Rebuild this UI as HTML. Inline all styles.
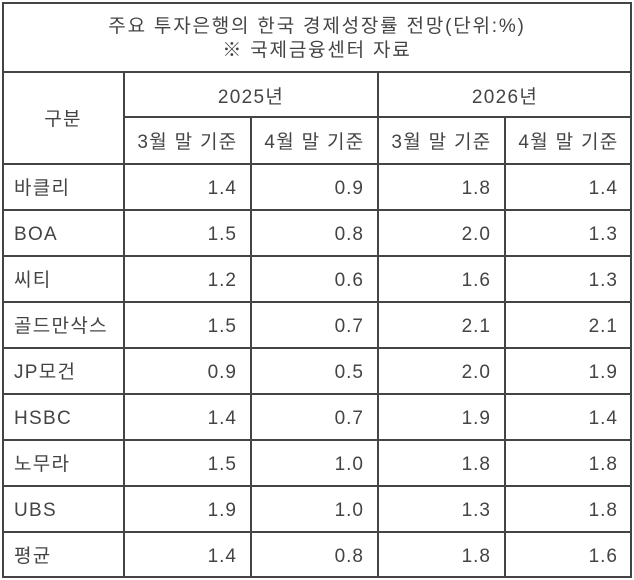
<!DOCTYPE html><html><head><meta charset="utf-8"><style>
body{margin:0;width:634px;height:580px;background:#fff;position:relative;font-family:"Liberation Sans","Noto Sans CJK KR",sans-serif;color:#444;font-size:19px;letter-spacing:1.3px}
.h{position:absolute;height:2px;background:#444}
.v{position:absolute;width:2px;background:#444}
.t{position:absolute;line-height:20px;white-space:nowrap}
.n{letter-spacing:1px}
</style></head><body>
<div class="h" style="left:2px;top:2px;width:630px"></div>
<div class="h" style="left:2px;top:576px;width:630px"></div>
<div class="v" style="left:2px;top:2px;height:576px"></div>
<div class="v" style="left:630px;top:2px;height:576px"></div>
<div class="h" style="left:2px;top:71px;width:630px"></div>
<div class="h" style="left:124px;top:116px;width:508px"></div>
<div class="h" style="left:2px;top:163px;width:630px"></div>
<div class="v" style="left:123px;top:71px;height:507px"></div>
<div class="v" style="left:250px;top:116px;height:462px"></div>
<div class="v" style="left:377px;top:71px;height:507px"></div>
<div class="v" style="left:504px;top:116px;height:462px"></div>
<div class="t" style="left:0;width:634px;text-align:center;top:17px;letter-spacing:1.8px">주요 투자은행의 한국 경제성장률 전망(단위:%)</div>
<div class="t" style="left:0;width:634px;text-align:center;top:41px;letter-spacing:1.8px">※ 국제금융센터 자료</div>
<div class="t" style="left:2px;width:122px;text-align:center;top:110px">구분</div>
<div class="t" style="left:124px;width:254px;text-align:center;top:88px">2025년</div>
<div class="t" style="left:378px;width:254px;text-align:center;top:88px">2026년</div>
<div class="t" style="left:124px;width:127px;text-align:center;top:133px">3월 말 기준</div>
<div class="t" style="left:251px;width:127px;text-align:center;top:133px">4월 말 기준</div>
<div class="t" style="left:378px;width:127px;text-align:center;top:133px">3월 말 기준</div>
<div class="t" style="left:505px;width:127px;text-align:center;top:133px">4월 말 기준</div>
<div id="rows"></div>
<script>
var d=[["바클리","1.4","0.9","1.8","1.4"],["BOA","1.5","0.8","2.0","1.3"],["씨티","1.2","0.6","1.6","1.3"],["골드만삭스","1.5","0.7","2.1","2.1"],["JP모건","0.9","0.5","2.0","1.9"],["HSBC","1.4","0.7","1.9","1.4"],["노무라","1.5","1.0","1.8","1.8"],["UBS","1.9","1.0","1.3","1.8"],["평균","1.4","0.8","1.8","1.6"]];
var h="",R=[124,251,378,505,632];
d.forEach(function(r,i){var y=163+i*46;
if(i>0)h+='<div class="h" style="left:2px;top:'+y+'px;width:630px"></div>';
h+='<div class="t" style="left:14px;top:'+(y+16)+'px">'+r[0]+'</div>';
for(var j=1;j<5;j++)h+='<div class="t n" style="left:'+R[j-1]+'px;width:'+(R[j]-R[j-1]-14)+'px;text-align:right;top:'+(y+16)+'px">'+r[j]+'</div>';});
document.getElementById("rows").innerHTML=h;
</script>
</body></html>
